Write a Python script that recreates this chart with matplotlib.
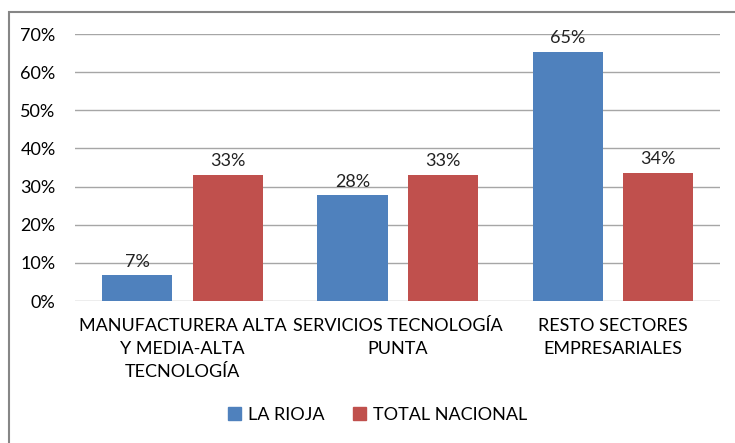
import matplotlib.pyplot as plt
import numpy as np
from matplotlib.patches import Rectangle

plt.rcParams['font.family'] = ['Lato', 'DejaVu Sans']

# datos
categorias = ['MANUFACTURERA ALTA\nY MEDIA-ALTA\nTECNOLOGÍA',
              'SERVICIOS TECNOLOGÍA\nPUNTA',
              'RESTO SECTORES\nEMPRESARIALES']
la_rioja = [0.068, 0.277, 0.653]
total_nacional = [0.331, 0.331, 0.336]
series = ['LA RIOJA', 'TOTAL NACIONAL']
colores = ['#4F81BD', '#C0504D']

fs = 13

fig = plt.figure(figsize=(7.35, 4.43), dpi=100)
ax = fig.add_axes([0.102, 0.3205, 0.878, 0.6025])

# marco del gráfico
fig.patches.append(Rectangle((9 / 735, -0.1), 1.1, 1.0733, transform=fig.transFigure,
                             fill=False, edgecolor='#868686', linewidth=1.5))

x = np.arange(len(categorias))
ancho = 0.326
off = 0.21
for vals, pos, col in [(la_rioja, x - off, colores[0]), (total_nacional, x + off, colores[1])]:
    bars = ax.bar(pos, vals, width=ancho, color=col, zorder=3)
    for b, v in zip(bars, vals):
        ax.annotate(f'{v * 100:.0f}%', (b.get_x() + b.get_width() / 2, v),
                    xytext=(0, 4), textcoords='offset points',
                    ha='center', va='bottom', fontsize=fs, color='#222222')

ax.set_xlim(-0.5, 2.5)
ax.set_ylim(0, 0.7)
ax.set_yticks(np.arange(0, 0.71, 0.1))
ax.set_yticklabels([f'{int(round(t * 100))}%' for t in np.arange(0, 0.71, 0.1)], fontsize=fs)
ax.set_xticks(x)
ax.set_xticklabels(categorias, fontsize=fs, linespacing=1.55)
ax.tick_params(axis='y', length=0, pad=14)
ax.tick_params(axis='x', length=0, pad=12)
ax.grid(axis='y', color='#A6A6A6', linewidth=1, zorder=0)
for s in ax.spines.values():
    s.set_visible(False)

handles = [Rectangle((0, 0), 1, 1, color=c) for c in colores]
fig.legend(handles, series, loc='center', bbox_to_anchor=(0.514, 0.063), ncol=2,
           frameon=False, fontsize=fs, handlelength=0.7, handleheight=0.7,
           handletextpad=0.4, columnspacing=1.6)

fig.savefig('out.png', dpi=100)
